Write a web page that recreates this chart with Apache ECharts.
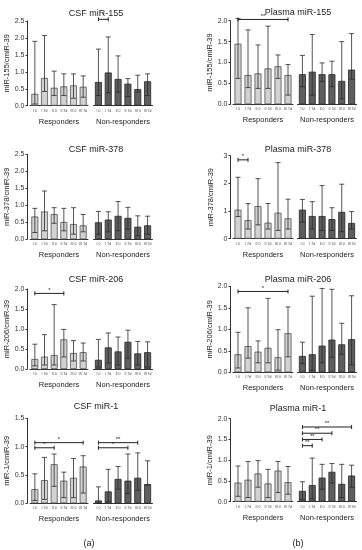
<!DOCTYPE html>
<html><head><meta charset="utf-8">
<script src="https://cdn.jsdelivr.net/npm/echarts@6/dist/echarts.min.js"></script>
<style>html,body{margin:0;padding:0;background:#fff}#c{width:362px;height:550px}</style>
</head><body><div id="c"></div>
<script>
const categories = ['I 0','I 7d','II 0','II 7d','III 0','III 7d'];
const groupNames = ['Responders','Non-responders'];
const titles = ['CSF miR-155','Plasma miR-155','CSF miR-378','Plasma miR-378','CSF miR-206','Plasma miR-206','CSF miR-1','Plasma miR-1'];
const yNames = ['miR-155/cmiR-39','miR-155/cmiR-39','miR-378/cmiR-39','miR-378/cmiR-39','miR-206/cmiR-39','miR-206/cmiR-39','miR-1/cmiR-39','miR-1/cmiR-39'];
const yMax = [2.5, 2.0, 2.5, 3, 2.0, 2.0, 1.5, 2.0];
const yStep = [0.5, 0.5, 0.5, 1, 0.5, 0.5, 0.5, 0.5];
const panelLabels = ['(a)','(b)'];

// values: first 6 = Responders, last 6 = Non-responders
const csf155Mean = [0.35,0.82,0.53,0.57,0.60,0.56, 0.70,0.98,0.79,0.65,0.49,0.72];
const csf155High = [1.90,2.07,1.02,0.94,0.94,0.88, 1.67,2.03,1.47,0.80,0.90,0.94];
const csf155Low  = [0.05,0.42,0.30,0.30,0.22,0.25, 0.30,0.38,0.40,0.27,0.40,0.30];
const csf155Sig  = [[1,0,1,2.55,'*']];

const pl155Mean = [1.45,0.70,0.74,0.86,0.91,0.70, 0.72,0.78,0.72,0.72,0.56,0.83];
const pl155High = [2.05,1.78,1.42,1.87,1.18,0.95, 1.17,1.67,0.99,1.03,1.50,1.69];
const pl155Low  = [0.62,0.40,0.38,0.38,0.62,0.22, 0.42,0.22,0.55,0.42,0.13,0.60];
const pl155Sig  = [[0,0,5,2.03,'**']];

const csf378Mean = [0.67,0.82,0.74,0.51,0.45,0.41, 0.50,0.58,0.69,0.63,0.37,0.41];
const csf378High = [0.91,1.42,0.93,0.91,0.93,0.73, 0.82,0.81,1.11,0.94,0.69,0.68];
const csf378Low  = [0.20,0.25,0.47,0.25,0.15,0.22, 0.15,0.22,0.25,0.30,0.10,0.15];
const csf378Sig  = [];

const pl378Mean = [1.05,0.67,1.18,0.58,0.94,0.74, 1.05,0.82,0.82,0.71,0.97,0.57];
const pl378High = [2.22,1.27,2.17,1.27,2.75,1.43, 1.42,1.34,1.92,1.12,1.97,0.98];
const pl378Low  = [0.80,0.35,0.50,0.35,0.30,0.35, 0.60,0.35,0.30,0.30,0.25,0.35];
const pl378Sig  = [[0,0,1,2.85,'*']];

const csf206Mean = [0.25,0.31,0.35,0.74,0.40,0.42, 0.23,0.54,0.44,0.68,0.39,0.42];
const csf206High = [0.62,0.86,1.61,0.99,0.71,0.65, 0.74,0.90,0.80,0.97,0.69,0.68];
const csf206Low  = [0.08,0.10,0.10,0.30,0.20,0.20, 0.05,0.15,0.10,0.27,0.10,0.05];
const csf206Sig  = [[0,0,3,1.89,'*']];

const pl206Mean = [0.42,0.61,0.48,0.57,0.35,0.91, 0.38,0.42,0.62,0.76,0.65,0.77];
const pl206High = [0.93,1.50,0.73,1.72,0.99,1.52, 0.70,1.77,1.95,1.93,1.14,1.78];
const pl206Low  = [0.10,0.33,0.22,0.22,0.05,0.36, 0.20,0.05,0.22,0.35,0.42,0.17];
const pl206Sig  = [[0,0,5,1.88,'*']];

const csf1Mean = [0.25,0.41,0.69,0.40,0.45,0.65, 0.05,0.21,0.43,0.40,0.45,0.34];
const csf1High = [0.52,0.81,0.87,0.55,0.79,0.84, 0.29,0.60,0.65,0.87,0.89,0.75];
const csf1Low  = [0.05,0.07,0.30,0.10,0.10,0.18, 0.00,0.03,0.25,0.17,0.23,0.32];
const csf1Sig  = [[0,0,2,0.98,'*'],[0,0,5,1.07,'*'],[1,0,3,0.98,'*'],[1,0,4,1.07,'**']];

const pl1Mean = [0.46,0.53,0.68,0.44,0.75,0.47, 0.26,0.40,0.58,0.72,0.43,0.63];
const pl1High = [0.86,0.97,0.99,0.78,0.97,0.85, 0.48,1.05,0.90,0.92,0.90,0.88];
const pl1Low  = [0.13,0.10,0.35,0.10,0.22,0.18, 0.05,0.07,0.30,0.45,0.10,0.35];
const pl1Sig  = [[1,0,1,1.35,'**'],[1,0,2,1.50,'**'],[1,0,3,1.65,'**'],[1,0,5,1.80,'**']];

const panels = [
  [csf155Mean, csf155Low, csf155High, csf155Sig],
  [pl155Mean, pl155Low, pl155High, pl155Sig],
  [csf378Mean, csf378Low, csf378High, csf378Sig],
  [pl378Mean, pl378Low, pl378High, pl378Sig],
  [csf206Mean, csf206Low, csf206High, csf206Sig],
  [pl206Mean, pl206Low, pl206High, pl206Sig],
  [csf1Mean, csf1Low, csf1High, csf1Sig],
  [pl1Mean, pl1Low, pl1High, pl1Sig]
];

// layout (pixels)
const colLayout = [
  {yAxisX: 27.5, r: [30, 58], n: [93.5, 59], titleX: 91},
  {yAxisX: 230.5, r: [233, 60], n: [297.5, 59], titleX: 293}
];
const rowLayout = [
  [[21, 105.7],[20.7, 104.3]],
  [[154.3, 239.3],[155.7, 238.7]],
  [[289, 369],[286.3, 372.3]],
  [[418.3, 503.3],[418.7, 501.7]]
];
const titleY = [[4, 3],[140, 140],[270, 270],[397, 399]];

const FONT = 'Arial, "Liberation Sans", sans-serif';
const fills = ['#d2d2d2', '#5e5e5e'];
const strokes = ['#505050', '#262626'];

const grid = [], xAxis = [], yAxis = [], series = [], title = [];

panels.forEach((pd, p) => {
  const col = p % 2, row = Math.floor(p / 2);
  const cl = colLayout[col];
  const [top, bottom] = rowLayout[row][col];
  title.push({
    text: titles[p], left: cl.titleX, top: titleY[row][col], textAlign: 'center',
    textStyle: {fontFamily: FONT, fontSize: 9, fontWeight: 'normal', color: '#222'}
  });
  [0, 1].forEach(g => {
    const gi = p * 2 + g;
    const box = g === 0 ? cl.r : cl.n;
    grid.push({left: box[0], width: box[1], top: top, height: bottom - top});
    xAxis.push({
      type: 'category', gridIndex: gi, data: categories,
      name: groupNames[g], nameLocation: 'middle', nameGap: 12,
      nameTextStyle: {fontFamily: FONT, fontSize: 7.5, color: '#222'},
      axisLine: {lineStyle: {color: '#333', width: 1}},
      axisTick: {alignWithLabel: true, length: 2, lineStyle: {color: '#333'}},
      axisLabel: {fontFamily: FONT, fontSize: 3.5, color: '#444', margin: 3, interval: 0}
    });
    yAxis.push({
      type: 'value', gridIndex: gi, min: 0, max: yMax[p], interval: yStep[p],
      show: g === 0, offset: g === 0 ? (box[0] - cl.yAxisX) : 0,
      name: g === 0 ? yNames[p] : '', nameLocation: 'middle', nameGap: 16,
      nameTextStyle: {fontFamily: FONT, fontSize: 7.5, color: '#222'},
      axisLine: {show: true, lineStyle: {color: '#333', width: 1}},
      axisTick: {show: true, length: 2, lineStyle: {color: '#333'}},
      axisLabel: {fontFamily: FONT, fontSize: 7, color: '#333', margin: 3,
        formatter: v => yStep[p] >= 1 ? String(v) : v.toFixed(1)},
      splitLine: {show: false}
    });
    const mean = pd[0].slice(g * 6, g * 6 + 6);
    const low = pd[1].slice(g * 6, g * 6 + 6);
    const high = pd[2].slice(g * 6, g * 6 + 6);
    series.push({
      type: 'bar', xAxisIndex: gi, yAxisIndex: gi, data: mean, barWidth: 7,
      itemStyle: {color: fills[g], borderColor: strokes[g], borderWidth: 0.8},
      silent: true, z: 2
    });
    series.push({
      type: 'custom', xAxisIndex: gi, yAxisIndex: gi, z: 3, silent: true,
      data: mean.map((m, i) => [i, low[i], high[i]]),
      renderItem: (params, api) => {
        const x = api.value(0);
        const lo = api.coord([x, api.value(1)]);
        const hi = api.coord([x, api.value(2)]);
        const c = 2.5, st = {stroke: '#2a2a2a', lineWidth: 0.8};
        return {type: 'group', children: [
          {type: 'line', shape: {x1: lo[0], y1: lo[1], x2: hi[0], y2: hi[1]}, style: st},
          {type: 'line', shape: {x1: hi[0] - c, y1: hi[1], x2: hi[0] + c, y2: hi[1]}, style: st},
          {type: 'line', shape: {x1: lo[0] - c, y1: lo[1], x2: lo[0] + c, y2: lo[1]}, style: st}
        ]};
      }
    });
    const sig = pd[3].filter(s => s[0] === g);
    if (sig.length) {
      series.push({
        type: 'custom', xAxisIndex: gi, yAxisIndex: gi, z: 4, silent: true, clip: false,
        data: sig.map(s => [s[1], s[2], s[3]]),
        renderItem: (params, api) => {
          const a = api.coord([api.value(0), api.value(2)]);
          const b = api.coord([api.value(1), api.value(2)]);
          const st = {stroke: '#222', lineWidth: 1};
          const lab = sig[params.dataIndex][4];
          return {type: 'group', children: [
            {type: 'line', shape: {x1: a[0], y1: a[1], x2: b[0], y2: b[1]}, style: st},
            {type: 'line', shape: {x1: a[0], y1: a[1] - 2, x2: a[0], y2: a[1] + 2}, style: st},
            {type: 'line', shape: {x1: b[0], y1: b[1] - 2, x2: b[0], y2: b[1] + 2}, style: st},
            {type: 'text', style: {text: lab, x: (a[0] + b[0]) / 2, y: a[1] - 0.5,
              align: 'center', verticalAlign: 'bottom', fontSize: 6, fontFamily: FONT, fill: '#222'}}
          ]};
        }
      });
    }
  });
});

title.push({text: panelLabels[0], left: 84, top: 534, textAlign: 'center',
  textStyle: {fontFamily: FONT, fontSize: 9, fontWeight: 'normal', color: '#222'}});
title.push({text: panelLabels[1], left: 293, top: 534, textAlign: 'center',
  textStyle: {fontFamily: FONT, fontSize: 9, fontWeight: 'normal', color: '#222'}});

const chart = echarts.init(document.getElementById('c'), null, {renderer: 'canvas'});
chart.setOption({animation: false, backgroundColor: '#fff', title, grid, xAxis, yAxis, series});
</script></body></html>
